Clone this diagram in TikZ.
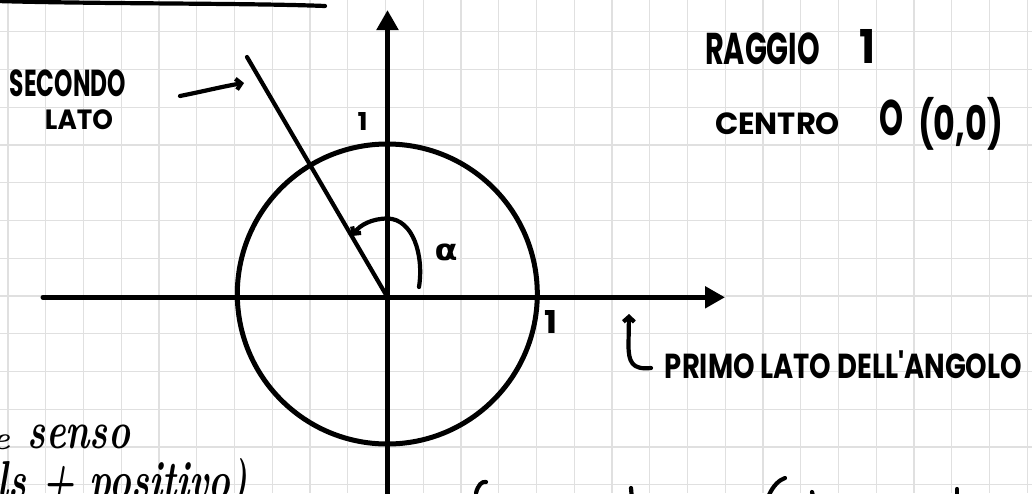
\documentclass[tikz,border=0pt]{standalone}
\usepackage{fontspec}
\usepackage{graphicx}
\usetikzlibrary{arrows.meta}
\newfontfamily\capsfont{Poppins}
\newfontfamily\grkfont{DejaVu Sans}
\definecolor{gridgray}{RGB}{224,224,224}
\newcommand{\capsfit}[3]{\resizebox*{#1}{#2}{\capsfont\bfseries #3}}
\newcommand{\cursfit}[3]{\resizebox*{#1}{#2}{\bfseries\itshape #3}}
\tikzset{
  gridline/.style={draw=gridgray, line width=1.4pt},
  axisink/.style={line width=5pt, line cap=round, line join=round},
  ink/.style={line width=4.2pt, line cap=round, line join=round},
  lbl/.style={inner sep=0pt, outer sep=0pt},
  bigtip/.style={-{Triangle[length=20pt,width=21pt]}},
  barb/.style={-{Straight Barb[length=5pt,width=11pt]}},
}
\begin{document}
\begin{tikzpicture}[x=1pt,y=-1pt]
\useasboundingbox (0,0) rectangle (1032,493);
\clip (0,0) rectangle (1032,493);
% grid
\foreach \i in {0,...,27} \draw[gridline] ({8+37.75*\i},0) -- ({8+37.75*\i},493);
\foreach \j in {0,...,12} \draw[gridline] (0,{31.7+37.75*\j}) -- (1032,{31.7+37.75*\j});
% top stroke
\coordinate (topL) at (-3,1);
\coordinate (topR) at (325,6);
\draw[ink] (topL) .. controls (100,4) and (250,3) .. (topR);
% axes
\coordinate (O) at (387.5,297.3);
\coordinate (ytip) at (387.5,10);
\coordinate (ybot) at (387.5,500);
\coordinate (xleft) at (43,297.3);
\coordinate (xtip) at (725,297.3);
\draw[axisink, bigtip] (ybot) -- (ytip);
\draw[axisink, bigtip] (xleft) -- (xtip);
% circle
\draw[axisink] (387.3,294) circle[radius=150];
% second side
\coordinate (side2) at (247,57);
\draw[ink] (O) -- (side2);
% angle arc
\coordinate (arcS) at (419,287);
\coordinate (arcT) at (352,236);
\draw[ink, barb] (arcS) .. controls (424,255) and (413,219) .. (387.5,218.5) .. controls (372,218.5) and (360,225) .. (arcT);
% labels
\node[lbl] (secondo) at (68,83.5) {\capsfit{116pt}{27pt}{SECONDO}};
\node[lbl] (lato2) at (79,120) {\capsfit{68pt}{20pt}{LATO}};
\coordinate (a2s) at (180,96);
\coordinate (a2e) at (244,83);
\draw[ink, barb] (a2s) .. controls (205,91) and (225,86) .. (a2e);
\node[lbl] (uy) at (362.5,121) {\capsfit{10pt}{18pt}{1}};
\node[lbl] (ux) at (551,321.5) {\capsfit{13pt}{23pt}{1}};
\node[lbl] (alpha) at (446,252) {\resizebox*{23pt}{17pt}{\grkfont\bfseries α}};
\node[lbl] (raggio) at (762.5,49) {\capsfit{115pt}{32pt}{RAGGIO}};
\node[lbl] (r1) at (867,46) {\capsfit{16pt}{34pt}{1}};
\node[lbl] (centro) at (777.5,124) {\capsfit{125pt}{22pt}{CENTRO}};
\node[lbl] (oo) at (891,118) {\capsfit{24pt}{36pt}{O}};
\node[lbl] (coord) at (960.5,123.5) {\capsfit{85pt}{53pt}{(0,0)}};
\node[lbl] (primo) at (843.5,365) {\capsfit{357pt}{28pt}{PRIMO LATO DELL'ANGOLO}};
\coordinate (hookS) at (651,368);
\coordinate (hookT) at (629,314);
\draw[ink, barb] (hookS) .. controls (632,370) and (628.5,362) .. (628.5,345) -- (hookT);
% bottom-left handwriting (cut off)
\node[lbl] (partial) at (1,442) {\cursfit{18pt}{15pt}{e}};
\node[lbl] (senso) at (79,437) {\cursfit{102pt}{24pt}{senso}};
\node[lbl, anchor=base west] (posit) at (-2,498) {\resizebox{250pt}{40pt}{\bfseries\itshape ls + positivo)}};
% bottom-right fragments (cut off)
\draw[ink] (476,493) .. controls (478,485) and (482,481) .. (486,482);
\draw[ink] (631,488) -- (631.5,494);
\draw[ink] (769,495) .. controls (773,486) and (779,480) .. (785,478);
\draw[ink] (812,492) -- (812.5,494);
\draw[ink] (957,489) -- (957,494);
\end{tikzpicture}
\end{document}
